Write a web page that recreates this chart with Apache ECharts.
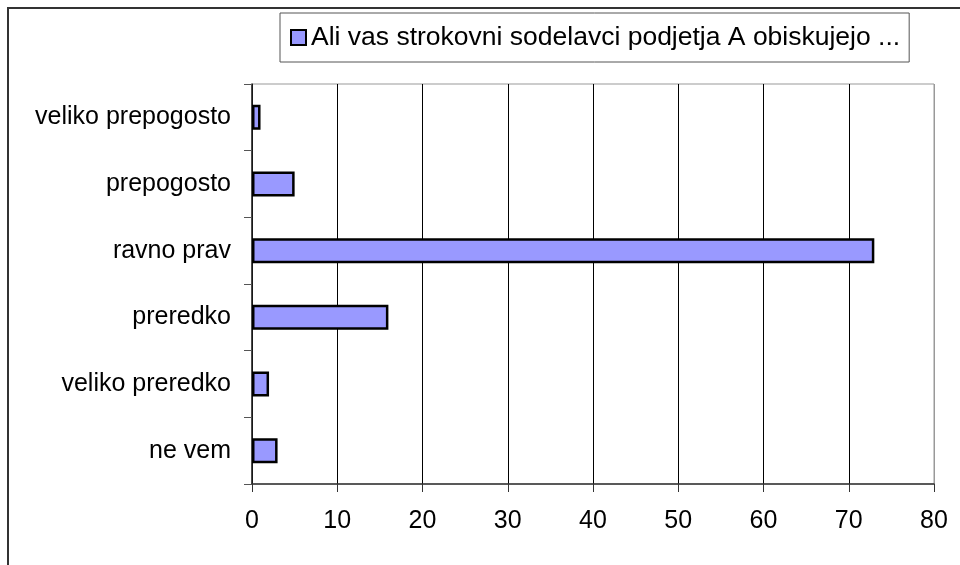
<!DOCTYPE html>
<html>
<head>
<meta charset="utf-8">
<style>
  html, body { margin: 0; padding: 0; background: #fff; }
  #chart { width: 960px; height: 565px; }
</style>
<script src="https://cdn.jsdelivr.net/npm/echarts@6/dist/echarts.min.js"></script>
</head>
<body>
<div id="chart"></div>
<script>
// Survey answers, top to bottom
const categories = ['veliko prepogosto', 'prepogosto', 'ravno prav', 'preredko', 'veliko preredko', 'ne vem'];
const values = [1, 5, 73, 16, 2, 3];
const seriesName = 'Ali vas strokovni sodelavci podjetja A obiskujejo ...';
const xTicks = [0, 10, 20, 30, 40, 50, 60, 70, 80];

const FONT = "'Liberation Sans', Arial, sans-serif";

const chart = echarts.init(document.getElementById('chart'), null, { renderer: 'canvas' });

// Grid lines: black for inner ticks, grey at the right edge
const splitColors = xTicks.map((t, i) => (i === xTicks.length - 1 ? '#999999' : '#000000'));

chart.setOption({
  animation: false,
  backgroundColor: '#ffffff',
  textStyle: { fontFamily: FONT },
  graphic: [{
    type: 'rect',
    shape: { x: 8, y: 8, width: 1000, height: 1000 },
    style: { fill: 'none', stroke: '#333333', lineWidth: 2 },
    silent: true,
    z: 0
  }],
  legend: {
    left: 280,
    top: 13,
    padding: [11, 9, 11, 10],
    backgroundColor: '#ffffff',
    borderColor: '#555555',
    borderWidth: 1,
    borderRadius: 0,
    itemWidth: 15,
    itemHeight: 15,
    icon: 'rect',
    textStyle: { fontSize: 26.5, color: '#000000', fontFamily: FONT },
    data: [seriesName]
  },
  grid: {
    left: 252,
    right: 26,
    top: 84,
    bottom: 81,
    show: true,
    borderColor: '#999999',
    borderWidth: 1,
    backgroundColor: 'transparent'
  },
  xAxis: {
    type: 'value',
    min: xTicks[0],
    max: xTicks[xTicks.length - 1],
    interval: 10,
    axisLine: { show: true, lineStyle: { color: '#333333', width: 1.5 } },
    axisTick: { show: true, length: 8, lineStyle: { color: '#333333' } },
    axisLabel: { fontSize: 25, color: '#000000', margin: 25, fontFamily: FONT },
    splitLine: { show: true, lineStyle: { color: splitColors, width: 1 } }
  },
  yAxis: {
    type: 'category',
    data: categories,
    inverse: true,
    axisLine: { show: true, lineStyle: { color: '#222222', width: 1.5 } },
    axisTick: { show: true, length: 8, lineStyle: { color: '#555555' } },
    axisLabel: { fontSize: 25, color: '#000000', margin: 21, fontFamily: FONT },
    splitLine: { show: false }
  },
  series: [{
    name: seriesName,
    type: 'bar',
    data: values,
    barWidth: 25,
    itemStyle: { color: '#9999ff', borderColor: '#000000', borderWidth: 2.5 }
  }]
});
</script>
</body>
</html>
